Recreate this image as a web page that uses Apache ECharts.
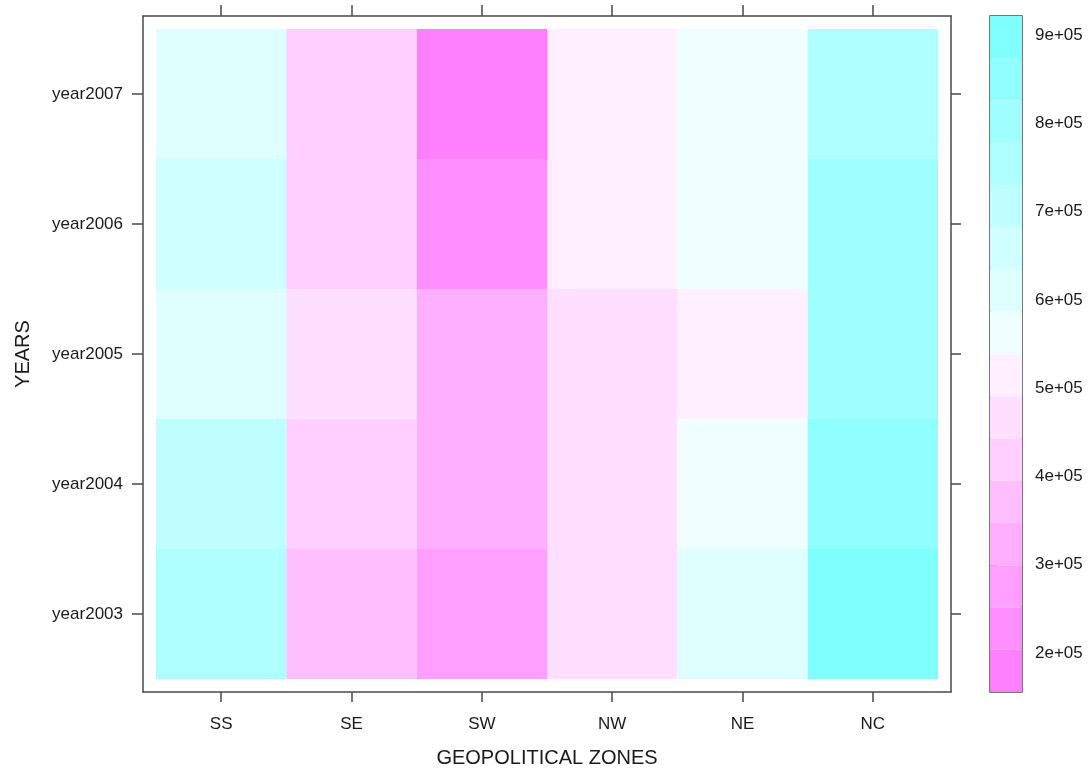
<!DOCTYPE html>
<html>
<head>
<meta charset="utf-8">
<script src="https://cdn.jsdelivr.net/npm/echarts@6/dist/echarts.min.js"></script>
<style>
html,body{margin:0;padding:0;background:#fff;}
#chart{width:1091px;height:770px;}
</style>
</head>
<body>
<div id="chart"></div>
<script>
// ---- data ----
const zones = ['SS', 'SE', 'SW', 'NW', 'NE', 'NC'];
const years = ['year2003', 'year2004', 'year2005', 'year2006', 'year2007'];
// values per year, in zone order SS, SE, SW, NW, NE, NC
const year2003 = [752000, 368000, 280000, 462000, 608000, 874500];
const year2004 = [712000, 420000, 318000, 470000, 560000, 845000];
const year2005 = [603000, 455000, 328000, 465000, 520000, 808000];
const year2006 = [655000, 415000, 232000, 512000, 566000, 795000];
const year2007 = [612000, 425000, 203000, 518000, 572000, 757000];
const yearValues = [year2003, year2004, year2005, year2006, year2007];
// colour key
const keyMin = 155800;
const keyMax = 921500;
const keyColors = ['#FF80FF', '#FF8FFF', '#FF9FFF', '#FFAFFF', '#FFBFFF', '#FFCFFF', '#FFDFFF', '#FFEFFF',
                   '#EFFFFF', '#DFFFFF', '#CFFFFF', '#BFFFFF', '#AFFFFF', '#9FFFFF', '#8FFFFF', '#80FFFF'];
const keyTicks = [200000, 300000, 400000, 500000, 600000, 700000, 800000, 900000];
const keyTickLabels = ['2e+05', '3e+05', '4e+05', '5e+05', '6e+05', '7e+05', '8e+05', '9e+05'];

// ---- build ----
const nBands = keyColors.length;
const step = (keyMax - keyMin) / nBands;
const breaks = [];
for (let i = 0; i <= nBands; i++) breaks.push(keyMin + i * step);
const pieces = keyColors.map((c, i) => ({ gte: breaks[i], lt: breaks[i + 1], color: c }));
const bandData = keyColors.map((c, i) => [breaks[i], breaks[i + 1], (breaks[i] + breaks[i + 1]) / 2]);

const cellData = [];
yearValues.forEach((row, yi) => row.forEach((v, xi) => cellData.push([xi, yi, v])));

const FONT = 'Liberation Sans, Arial, Helvetica, sans-serif';
const AX = '#4a4a4a';
const lineStyle = { color: AX, width: 1.5 };
const tickStyle = { color: AX, width: 1.5 };
const TXT = '#1a1a1a';

const chart = echarts.init(document.getElementById('chart'), null, { renderer: 'canvas' });
chart.setOption({
  backgroundColor: '#fff',
  animation: false,
  grid: [
    { left: 143, top: 16, width: 808, height: 676, outerBoundsMode: 'none', containLabel: false },
    { left: 990, top: 16, width: 32, height: 676, outerBoundsMode: 'none', containLabel: false,
      show: true, borderColor: '#4a4a4a', borderWidth: 1.5, backgroundColor: 'transparent' }
  ],
  visualMap: {
    show: false, type: 'piecewise', dimension: 2, seriesIndex: [0, 1], pieces: pieces
  },
  xAxis: [
    {
      gridIndex: 0, type: 'value', min: -0.6, max: zones.length - 0.4, position: 'bottom',
      name: 'GEOPOLITICAL ZONES', nameLocation: 'middle', nameGap: 56,
      nameTextStyle: { fontFamily: FONT, fontSize: 20, color: TXT },
      axisLine: { show: true, onZero: false, lineStyle: lineStyle },
      axisTick: { show: true, inside: false, length: 10, lineStyle: tickStyle, customValues: zones.map((z, i) => i) },
      axisLabel: { show: true, margin: 24, fontFamily: FONT, fontSize: 17, color: TXT,
                   customValues: zones.map((z, i) => i), formatter: v => zones[Math.round(v)] },
      splitLine: { show: false }
    },
    {
      gridIndex: 0, type: 'value', min: -0.6, max: zones.length - 0.4, position: 'top',
      axisLine: { show: true, onZero: false, lineStyle: lineStyle },
      axisTick: { show: true, inside: false, length: 11, lineStyle: tickStyle, customValues: zones.map((z, i) => i) },
      axisLabel: { show: false },
      splitLine: { show: false }
    },
    {
      gridIndex: 1, type: 'value', min: 0, max: 1, show: false
    }
  ],
  yAxis: [
    {
      gridIndex: 0, type: 'value', min: -0.6, max: years.length - 0.4, position: 'left',
      name: 'YEARS', nameLocation: 'middle', nameGap: 110, nameRotate: 90,
      nameTextStyle: { fontFamily: FONT, fontSize: 20, color: TXT },
      axisLine: { show: true, onZero: false, lineStyle: lineStyle },
      axisTick: { show: true, inside: false, length: 11, lineStyle: tickStyle, customValues: years.map((y, i) => i) },
      axisLabel: { show: true, margin: 20, fontFamily: FONT, fontSize: 17, color: TXT,
                   customValues: years.map((y, i) => i), formatter: v => years[Math.round(v)] },
      splitLine: { show: false }
    },
    {
      gridIndex: 0, type: 'value', min: -0.6, max: years.length - 0.4, position: 'right',
      axisLine: { show: true, onZero: false, lineStyle: lineStyle },
      axisTick: { show: true, inside: false, length: 10, lineStyle: tickStyle, customValues: years.map((y, i) => i) },
      axisLabel: { show: false },
      splitLine: { show: false }
    },
    {
      gridIndex: 1, type: 'value', min: keyMin, max: keyMax, position: 'right',
      axisLine: { show: false },
      axisTick: { show: true, inside: false, length: 7, lineStyle: tickStyle, customValues: keyTicks },
      axisLabel: { show: true, margin: 13, fontFamily: FONT, fontSize: 17, color: TXT,
                   customValues: keyTicks, formatter: v => keyTickLabels[keyTicks.indexOf(v)] || '' },
      splitLine: { show: false }
    }
  ],
  series: [
    {
      type: 'custom', xAxisIndex: 0, yAxisIndex: 0, data: cellData,
      renderItem: function (params, api) {
        const x = api.value(0), y = api.value(1);
        const p0 = api.coord([x - 0.5, y + 0.5]);
        const p1 = api.coord([x + 0.5, y - 0.5]);
        return {
          type: 'rect',
          shape: { x: p0[0], y: p0[1], width: p1[0] - p0[0], height: p1[1] - p0[1] },
          style: { fill: api.visual('color'), stroke: null }
        };
      },
      z: 1
    },
    {
      type: 'custom', xAxisIndex: 2, yAxisIndex: 2, data: bandData,
      renderItem: function (params, api) {
        const p0 = api.coord([0, api.value(1)]);
        const p1 = api.coord([1, api.value(0)]);
        return {
          type: 'rect',
          shape: { x: p0[0], y: p0[1], width: p1[0] - p0[0], height: p1[1] - p0[1] },
          style: { fill: api.visual('color'), stroke: null }
        };
      },
      z: 1
    }
  ]
});
</script>
</body>
</html>
